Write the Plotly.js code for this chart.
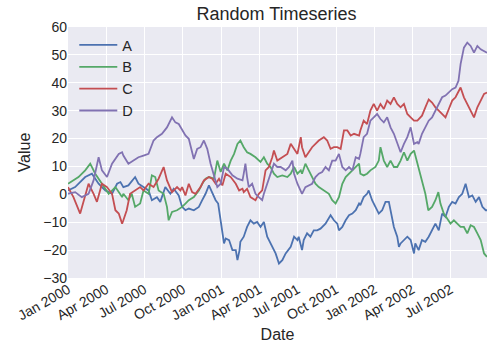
<!DOCTYPE html>
<html>
<head>
<meta charset="utf-8">
<script src="https://cdn.plot.ly/plotly-3.0.1.min.js"></script>
<style>html,body{margin:0;padding:0;background:#fff;}#chart{width:493px;height:355px;}</style>
</head>
<body>
<div id="chart"></div>
<script>
// Days since 2000-01-01 and values
const daysA = [0,17,41,57,73,89,105,117,125,132,144,160,168,180,192,200,212,220,232,244,252,264,272,280,288,300,312,320,328,336,344,352,358,364,368,372,376,384,392,400,404,409,411,419,427,435,443,451,459,467,475,487,495,503,511,519,531,539,547,550,558,562,570,578,586,594,602,614,626,634,642,646,654,662,670,678,686,694,697,705,713,717,725,733,741,749,757,765,769,777,785,789,793,801,809,817,825,828,836,844,852,860,868,876,884,892,900,908,916,924,932,940,948,956,964,972,980,988,996,999];
const valuesA = [1.4,2.6,6.2,7.4,3.8,1.4,0.2,3.8,4.4,2.6,3.2,6.2,3.8,2.6,1.4,-2.1,-1.0,-2.7,2.6,0.2,2.0,-0.4,-4.5,-5.7,-5.1,-5.7,-4.5,-2.1,0.2,3.2,0.2,-2.1,-3.3,-9.3,-14.0,-17.6,-15.8,-16.4,-20,-20,-23.6,-20,-17,-15.2,-11.7,-9.3,-10.5,-9.9,-11.7,-9.9,-15.2,-18.8,-21.2,-24.8,-23.6,-21.2,-18.8,-15.2,-16.4,-15.2,-20,-16.4,-14,-15.2,-12.9,-12.9,-12.3,-10.5,-7.5,-9.3,-10.5,-12.9,-11.7,-9.3,-7.5,-6.9,-5.7,-3.3,-3.9,-1.0,0.2,1.4,-2.1,-4.5,-6.9,-5.7,-2.7,-2.7,-5.7,-11.7,-15.2,-18.8,-17.6,-16.4,-15.2,-16.4,-21.2,-17.6,-20,-16.4,-17,-15.2,-12.9,-10.5,-12.9,-6.9,-8.1,-4.5,-2.7,-3.3,-1.0,0.2,3.8,-1.0,-0.4,-2.7,-1.0,-4.5,-5.7,-5.7];

const daysB = [0,25,41,53,65,81,97,113,129,132,144,152,160,172,180,192,200,208,216,228,236,240,248,260,272,280,288,300,312,320,328,336,348,356,364,372,380,388,396,404,411,419,427,435,447,459,467,475,483,491,499,511,523,531,539,547,555,558,566,574,582,590,598,610,622,630,638,646,654,662,670,678,686,694,697,705,713,721,733,741,745,753,761,769,777,785,793,801,809,817,825,833,836,844,852,859,868,876,883,888,896,904,912,920,928,936,944,952,960,968,976,984,992,999];
const valuesB = [3.8,6.2,8.6,11,7.4,3.8,0.2,2.6,-1.0,0.2,-2.1,0.2,-4.5,-3.3,1.4,0.2,6.8,6.2,1.4,0.2,-4.5,-9.3,-6.3,-5.7,-4.5,-3.3,-2.1,-1.0,1.4,3.8,5.6,6.2,5.6,12.1,8.0,11,8.6,12.1,14.5,18.1,19.3,16.9,15.1,14.5,13.3,11.6,13.3,11,9.8,7.4,6.2,6.8,6.2,7.4,9.8,7.4,8.6,7.4,11,8.6,6.2,3.8,2.6,1.4,0.2,-2.1,-3.3,-1.0,3.8,6.2,7.4,8.6,9.8,11,7.4,6.8,7.4,8.6,9.8,12.1,16.9,12.1,9.8,12.1,9.8,9.8,12.1,15.1,12.1,14.5,15.7,11,9.8,5.0,0.2,-5.7,-4.5,-2.1,0.8,-3.3,-6.9,-8.7,-10.5,-9.3,-10.5,-11.7,-11.7,-14,-11.1,-11.7,-14,-16.4,-21.2,-22.4];

const daysC = [0,13,29,40,49,61,69,81,93,105,113,121,129,132,140,148,160,172,180,192,204,216,228,236,248,260,268,272,280,288,296,304,316,324,336,344,352,360,368,376,388,400,408,416,419,427,435,447,455,463,471,479,487,491,499,511,523,531,539,547,555,558,566,574,582,590,598,610,618,626,634,642,650,658,666,674,682,694,697,705,713,721,729,737,745,753,761,769,777,785,793,801,809,817,825,833,836,844,852,860,868,876,884,892,900,908,916,924,936,944,952,960,968,976,984,992,999];
const valuesC = [2.6,-1.0,-6.9,-1.0,3.8,0.2,-2.7,3.8,2.6,0.2,-5.7,-6.9,-10.5,-9.3,-5.7,0.2,1.4,2.6,1.4,3.8,2.6,5.6,9.8,5.0,0.8,2.6,1.4,2.6,-0.4,3.8,0.8,0.2,2.6,5.0,6.2,5.6,3.8,5.6,3.2,7.4,6.2,3.8,1.4,2.0,0.8,2.0,-1.0,-2.1,0.2,1.4,8.6,9.8,13.3,15.7,12.1,13.3,14.5,18.1,16.3,14.5,20.5,16.9,13.3,15.1,16.9,18.1,19.3,20.5,19.3,16.3,16.9,16.9,16.3,22.9,22.9,21.1,21.7,21.1,22.9,26.4,25.2,30,32.4,30,32.4,30.6,33.6,32.4,34.8,32.4,31.2,32.4,28.8,27.6,26.4,26.4,27,28.2,31.2,34.0,32.9,31.2,30,28.8,27.6,30.6,33.6,34.8,38.3,34.8,32.4,30,27.6,31.2,33.6,36,36.5];

const daysD = [0,17,33,49,61,73,81,93,105,121,129,132,144,156,168,180,192,204,212,224,236,248,256,264,272,280,288,296,300,308,316,324,332,340,348,356,364,372,380,392,404,416,419,423,427,431,439,447,455,463,467,475,483,491,499,507,519,527,535,539,547,555,558,566,574,582,590,598,606,614,622,630,638,646,654,662,670,678,686,694,697,705,713,721,729,737,745,753,761,769,777,785,793,801,809,817,825,833,836,844,852,860,868,876,884,892,900,908,916,924,931,936,944,952,960,968,976,984,992,999];
const valuesD = [0.2,0.8,-1.0,0.2,5.0,13.3,8.6,6.2,11,14.5,15.1,13.9,11,12.1,13.3,13.9,14.5,19.3,20.5,21.7,24,27.6,25.8,25.2,23.0,21.1,19.9,14.5,12.7,16.3,16.9,19.3,16.3,11,6.8,2.6,3.8,9.8,9.2,6.8,5.6,5.0,7.4,11,6.2,2.6,3.8,0.2,-1.0,-2.1,0.2,3.8,7.4,11,9.8,9.8,8.6,9.8,12.1,7.4,3.8,1.4,0.2,2.6,3.2,3.8,6.2,7.4,8.0,9.8,8.6,12.1,12.1,14.5,9.8,8.6,9.8,8.6,13.3,12.7,14.5,20.5,21.7,26.4,27.6,28.8,27.0,25.8,27.6,24,21.7,18.1,15.1,18.1,20.5,24,18.1,18.7,18.1,21.7,24,26.4,27.6,30,33,34.8,35.4,36.5,37.7,38.3,40.7,46.7,52.6,54.4,53.2,50.8,53.2,52,51.4,50.8];

const seriesNames = ['A','B','C','D'];
const seriesColors = ['#4C72B0','#55A868','#C44E52','#8172B2'];
const xTickVals = ['2000-01-01','2000-04-01','2000-07-01','2000-10-01','2001-01-01','2001-04-01','2001-07-01','2001-10-01','2002-01-01','2002-04-01','2002-07-01'];
const xTickText = ['Jan 2000','Apr 2000','Jul 2000','Oct 2000','Jan 2001','Apr 2001','Jul 2001','Oct 2001','Jan 2002','Apr 2002','Jul 2002'];
const yTickVals = [-30,-20,-10,0,10,20,30,40,50,60];

const base = Date.UTC(2000,0,1);
const toDate = d => new Date(base + d*86400000).toISOString().slice(0,10);
const allDays = [daysA, daysB, daysC, daysD];
const allVals = [valuesA, valuesB, valuesC, valuesD];

const traces = seriesNames.map((n,i) => ({
  x: allDays[i].map(toDate), y: allVals[i], name: n, type: 'scatter', mode: 'lines',
  line: {color: seriesColors[i], width: 1.8}
}));

const font = 'Liberation Sans, Arial, sans-serif';
const layout = {
  width: 493, height: 355,
  margin: {l: 68, r: 6, t: 27, b: 77},
  paper_bgcolor: '#ffffff', plot_bgcolor: '#EAEAF2',
  font: {family: font, color: '#262626', size: 14},
  title: {text: 'Random Timeseries', font: {size: 18, family: font, color: '#262626'}, x: 0.561, xanchor: 'center', y: 0.962, yanchor: 'middle'},
  showlegend: true,
  legend: {x: 0.015, y: 0.992, xanchor: 'left', yanchor: 'top', bgcolor: 'rgba(0,0,0,0)', itemwidth: 38, font: {size: 14.5, family: font, color: '#262626'}, tracegroupgap: 0},
  xaxis: {
    type: 'date', range: ['2000-01-01','2002-09-26'],
    tickvals: xTickVals, ticktext: xTickText, tickangle: -30,
    showgrid: true, gridcolor: '#ffffff', gridwidth: 1, zeroline: false, showline: false, ticks: '',
    tickfont: {size: 14, family: font, color: '#262626'},
    title: {text: 'Date', font: {size: 16, family: font, color: '#262626'}, standoff: 6}
  },
  yaxis: {
    range: [-30, 60], tickvals: yTickVals,
    showgrid: true, gridcolor: '#ffffff', gridwidth: 1, zeroline: false, showline: false, ticks: '',
    tickfont: {size: 14, family: font, color: '#262626'},
    title: {text: 'Value', font: {size: 16, family: font, color: '#262626'}, standoff: 8}
  }
};

Plotly.newPlot('chart', traces, layout, {displayModeBar: false, staticPlot: true});
</script>
</body>
</html>
